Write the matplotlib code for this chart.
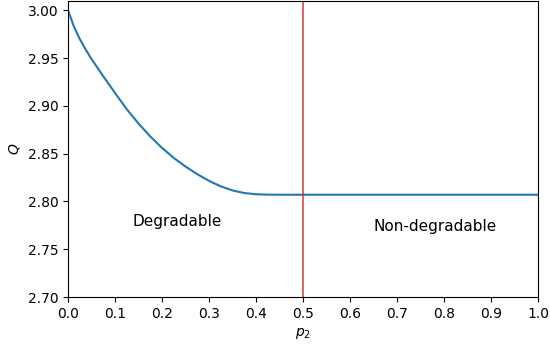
import matplotlib
matplotlib.use("Agg")
import matplotlib.pyplot as plt

plt.rcParams['font.family'] = ['DejaVu Sans']
plt.rcParams['mathtext.fontset'] = 'dejavusans'

p2 = [0.0, 0.0125, 0.025, 0.0375, 0.05, 0.075, 0.1, 0.125, 0.15, 0.175, 0.2, 0.225,
      0.25, 0.275, 0.3, 0.325, 0.35, 0.375, 0.4, 0.425, 0.45, 0.5, 0.6, 0.7, 0.8, 0.9, 1.0]
Q = [3.000, 2.983, 2.970, 2.959, 2.949, 2.931, 2.9135, 2.8965, 2.8815, 2.868, 2.856, 2.8455,
     2.8365, 2.8285, 2.8215, 2.8158, 2.8115, 2.8088, 2.8075, 2.8071, 2.807, 2.807, 2.807,
     2.807, 2.807, 2.807, 2.807]
boundary = 0.5
xticks = [0.0, 0.1, 0.2, 0.3, 0.4, 0.5, 0.6, 0.7, 0.8, 0.9, 1.0]
yticks = [2.70, 2.75, 2.80, 2.85, 2.90, 2.95, 3.00]

fig = plt.figure(figsize=(5.5, 3.46), dpi=100)
ax = fig.add_axes([68/550, 1 - 297/346, 470/550, 296/346])
ax.plot(p2, Q, color='tab:blue', lw=1.5)
ax.axvline(boundary, color='tab:red', lw=1.2, alpha=0.85)
ax.text(0.138, 2.774, 'Degradable', fontsize=11)
ax.text(0.649, 2.769, 'Non-degradable', fontsize=11)
ax.set_xlim(0, 1)
ax.set_ylim(2.70, 3.0097)
ax.set_xticks(xticks)
ax.set_yticks(yticks)
ax.set_xlabel('$p_2$')
ax.set_ylabel('$Q$')
fig.savefig('out.png', dpi=100)
